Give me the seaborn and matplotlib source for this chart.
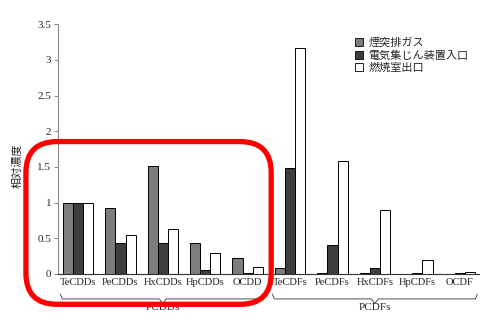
import pandas as pd
import matplotlib.pyplot as plt
import seaborn as sns
from matplotlib.patches import FancyBboxPatch, Patch

# congeners on the x axis
congeners = ['TeCDDs', 'PeCDDs', 'HxCDDs', 'HpCDDs', 'OCDD',
             'TeCDFs', 'PeCDFs', 'HxCDFs', 'HpCDFs', 'OCDF']
series_names = ['煙突排ガス', '電気集じん装置入口', '燃焼室出口']

# relative concentration
stack_gas = [1.0, 0.93, 1.52, 0.44, 0.23, 0.09, 0.02, 0.01, 0.005, 0.005]
ep_inlet = [1.0, 0.44, 0.44, 0.05, 0.02, 1.49, 0.41, 0.08, 0.01, 0.01]
furnace_outlet = [1.0, 0.54, 0.63, 0.29, 0.10, 3.17, 1.59, 0.89, 0.20, 0.03]

groups = ['PCDDs', 'PCDFs']
yticks = [0, 0.5, 1, 1.5, 2, 2.5, 3, 3.5]

df = pd.DataFrame({
    'congener': congeners * 3,
    'series': [series_names[0]] * 10 + [series_names[1]] * 10 + [series_names[2]] * 10,
    'value': stack_gas + ep_inlet + furnace_outlet,
})

sns.set_style('white')
plt.rcParams['font.family'] = ['Liberation Serif', 'Noto Sans CJK JP']

fig = plt.figure(figsize=(4.8, 3.16), dpi=100)
ax = fig.add_axes([0.121, 0.133, 0.879, 0.79])

palette = ['#7d7d7d', '#3e3e3e', '#ffffff']
sns.barplot(data=df, x='congener', y='value', hue='series', palette=palette,
            width=0.72, gap=0, edgecolor='black', linewidth=0.7,
            saturation=1, ax=ax, legend=False)

ax.set_xlim(-0.47, 9.48)
ax.set_ylim(0, 3.5)
ax.set_yticks(yticks)
ax.set_yticklabels(['0', '0.5', '1', '1.5', '2', '2.5', '3', '3.5'], fontsize=8)
ax.tick_params(axis='y', length=3, width=0.6, color='#777777', pad=2, direction='out', left=True)
ax.tick_params(axis='x', length=0, labelsize=7.6, pad=3)
ax.set_xlabel('')
ax.set_ylabel('')
sns.despine(ax=ax)
ax.spines['left'].set_color('#888888')
ax.spines['left'].set_linewidth(0.8)
ax.spines['bottom'].set_color('#333333')
ax.spines['bottom'].set_linewidth(0.8)

# rotated y label
fig.text(0.036, 0.475, '相対濃度', fontsize=8, ha='center', va='center',
         rotation=90, family=['Noto Sans CJK JP'])

# legend
handles = [Patch(facecolor=c, edgecolor='black', linewidth=0.6) for c in palette]
ax.legend(handles, series_names, loc='upper left', bbox_to_anchor=(0.68, 0.99),
          frameon=False, handlelength=0.7, handleheight=0.7,
          handletextpad=0.5, labelspacing=0.2,
          prop={'family': 'Noto Sans CJK JP', 'size': 8})

# group braces and names under the tick labels
trans = ax.get_xaxis_transform()
for i, name in enumerate(groups):
    x0, x1 = i * 5 - 0.42, i * 5 + 4.42
    xm = (x0 + x1) / 2
    ax.plot([x0, x0 + 0.05, xm - 0.08, xm, xm + 0.08, x1 - 0.05, x1],
            [-0.08, -0.1, -0.1, -0.118, -0.1, -0.1, -0.08],
            transform=trans, clip_on=False, color='#333333', lw=0.6)
    ax.text(xm, -0.118, name, transform=trans, ha='center', va='top', fontsize=8)

# red highlight box
box = FancyBboxPatch((0.054, 0.037), 0.511, 0.515, boxstyle='round,pad=0,rounding_size=0.065',
                     transform=fig.transFigure, fill=False, edgecolor='#ff0000', lw=3.8,
                     mutation_aspect=480 / 316, clip_on=False)
fig.patches.append(box)

fig.savefig('out.png', dpi=100)
